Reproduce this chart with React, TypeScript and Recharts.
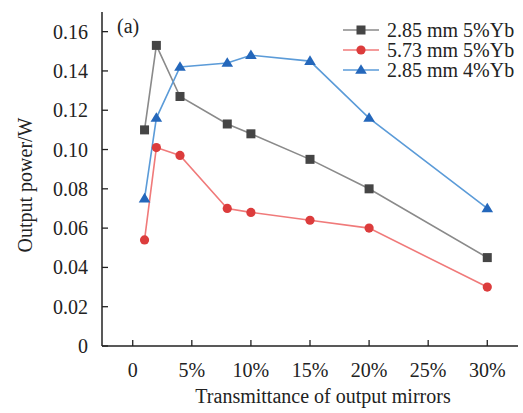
import React from "react";
import { LineChart, Line, XAxis, YAxis, Legend } from "recharts";

const transmittance = [1, 2, 4, 8, 10, 15, 20, 30];
const s285_5 = [0.110, 0.153, 0.127, 0.113, 0.108, 0.095, 0.080, 0.045];
const s573_5 = [0.054, 0.101, 0.097, 0.070, 0.068, 0.064, 0.060, 0.030];
const s285_4 = [0.075, 0.116, 0.142, 0.144, 0.148, 0.145, 0.116, 0.070];
const xTicks = [0, 5, 10, 15, 20, 25, 30];
const yTicks = [0, 0.02, 0.04, 0.06, 0.08, 0.1, 0.12, 0.14, 0.16];
const seriesNames = ["2.85 mm 5%Yb", "5.73 mm 5%Yb", "2.85 mm 4%Yb"];

const data = transmittance.map((x, i) => ({
  x,
  a: s285_5[i],
  b: s573_5[i],
  c: s285_4[i],
}));

const FONT = "'Liberation Serif', 'Times New Roman', serif";
const AX = "#222";
const TXT: React.CSSProperties = { fontFamily: FONT, fontSize: 20 };

const LINE_COLORS = ["#8a8a8a", "#f07a7a", "#5b9bd8"];
const MARK_COLORS = ["#454545", "#dc3c3c", "#2467bb"];

function marker(kind: number, cx: number, cy: number, key?: any) {
  if (kind === 0) {
    return <rect key={key} x={cx - 4.5} y={cy - 4.5} width={9} height={9} fill={MARK_COLORS[0]} />;
  }
  if (kind === 1) {
    return <circle key={key} cx={cx} cy={cy} r={4.6} fill={MARK_COLORS[1]} />;
  }
  const s = 5.8;
  return (
    <polygon
      key={key}
      points={`${cx},${cy - s} ${cx - s},${cy + s * 0.65} ${cx + s},${cy + s * 0.65}`}
      fill={MARK_COLORS[2]}
    />
  );
}

const makeDot = (kind: number) => (props: any) => {
  const { cx, cy, index } = props;
  if (cx == null || cy == null) return <g key={index} />;
  return marker(kind, cx, cy, `${kind}-${index}`);
};

const XTick = (props: any) => {
  const { x, y, payload } = props;
  const v = payload.value;
  const axisY = y - 24;
  return (
    <g>
      <line x1={x} x2={x} y1={axisY} y2={axisY - 6} stroke={AX} strokeWidth={1.3} />
      <text x={x} y={y} dy="0.35em" textAnchor="middle" fontFamily={FONT} fontSize={20} style={TXT} fill="#222">
        {v === 0 ? "0" : `${v}%`}
      </text>
    </g>
  );
};

const YTick = (props: any) => {
  const { x, y, payload } = props;
  const v = payload.value;
  const axisX = x + 14;
  return (
    <g>
      <line x1={axisX} x2={axisX + 6} y1={y} y2={y} stroke={AX} strokeWidth={1.3} />
      <text x={x} y={y} dy="0.35em" textAnchor="end" fontFamily={FONT} fontSize={20} style={TXT} fill="#222">
        {v === 0 ? "0" : v.toFixed(2)}
      </text>
    </g>
  );
};

const YLabel = (props: any) => {
  const vb = props.viewBox || { x: 0, y: 12, width: 102, height: 334 };
  const cx = vb.x + 25;
  const cy = vb.y + vb.height / 2 + 6;
  return (
    <text
      x={cx}
      y={cy}
      transform={`rotate(-90 ${cx} ${cy})`}
      textAnchor="middle"
      dy="0.35em"
      fontFamily={FONT}
      fontSize={20}
      style={TXT}
      fill="#222"
    >
      Output power/W
    </text>
  );
};

const XLabel = (props: any) => {
  const vb = props.viewBox || { x: 102, y: 346, width: 416, height: 67 };
  const cx = vb.x + vb.width / 2 + 13;
  return (
    <text x={cx} y={396} dy="0.35em" textAnchor="middle" fontFamily={FONT} fontSize={20} style={TXT} fill="#222">
      Transmittance of output mirrors
    </text>
  );
};

const LegendContent = () => (
  <svg width={182} height={62} style={{ display: "block" }}>
    {seriesNames.map((name, i) => {
      const cy = 10 + i * 20;
      return (
        <g key={name}>
          <line x1={2} x2={38} y1={cy} y2={cy} stroke={LINE_COLORS[i]} strokeWidth={1.6} />
          {marker(i, 20, cy)}
          <text x={46} y={cy} dy="0.35em" fontFamily={FONT} fontSize={20} style={TXT} fill="#222">
            {name}
          </text>
        </g>
      );
    })}
  </svg>
);

export default function App() {
  return (
    <div style={{ position: "absolute", left: 0, top: 0, width: 523, height: 413, background: "#fff" }}>
      <LineChart width={523} height={413} data={data} margin={{ top: 12, right: 5, left: 0, bottom: 0 }}>
        <XAxis
          type="number"
          dataKey="x"
          domain={[-2.6, 32.6]}
          ticks={xTicks}
          allowDataOverflow
          height={67}
          tickSize={6}
          tickMargin={18}
          tickLine={false}
          tick={<XTick />}
          axisLine={{ stroke: AX, strokeWidth: 1.5 }}
          label={<XLabel />}
        />
        <YAxis
          type="number"
          domain={[0, 0.17]}
          ticks={yTicks}
          allowDataOverflow
          width={102}
          tickSize={6}
          tickMargin={8}
          tickLine={false}
          tick={<YTick />}
          axisLine={{ stroke: AX, strokeWidth: 1.5 }}
          label={<YLabel />}
        />
        <Legend
          layout="vertical"
          align="center"
          verticalAlign="middle"
          content={<LegendContent />}
          wrapperStyle={{ position: "absolute", left: 341, top: 20, width: 182, height: 62 }}
        />
        <Line
          dataKey="a"
          name={seriesNames[0]}
          stroke={LINE_COLORS[0]}
          strokeWidth={1.6}
          dot={makeDot(0)}
          activeDot={false}
          isAnimationActive={false}
        />
        <Line
          dataKey="b"
          name={seriesNames[1]}
          stroke={LINE_COLORS[1]}
          strokeWidth={1.6}
          dot={makeDot(1)}
          activeDot={false}
          isAnimationActive={false}
        />
        <Line
          dataKey="c"
          name={seriesNames[2]}
          stroke={LINE_COLORS[2]}
          strokeWidth={1.6}
          dot={makeDot(2)}
          activeDot={false}
          isAnimationActive={false}
        />
      </LineChart>
      <div
        style={{
          position: "absolute",
          left: 117,
          top: 14,
          fontFamily: FONT,
          fontSize: 20,
          lineHeight: "24px",
          color: "#222",
        }}
      >
        (a)
      </div>
    </div>
  );
}
